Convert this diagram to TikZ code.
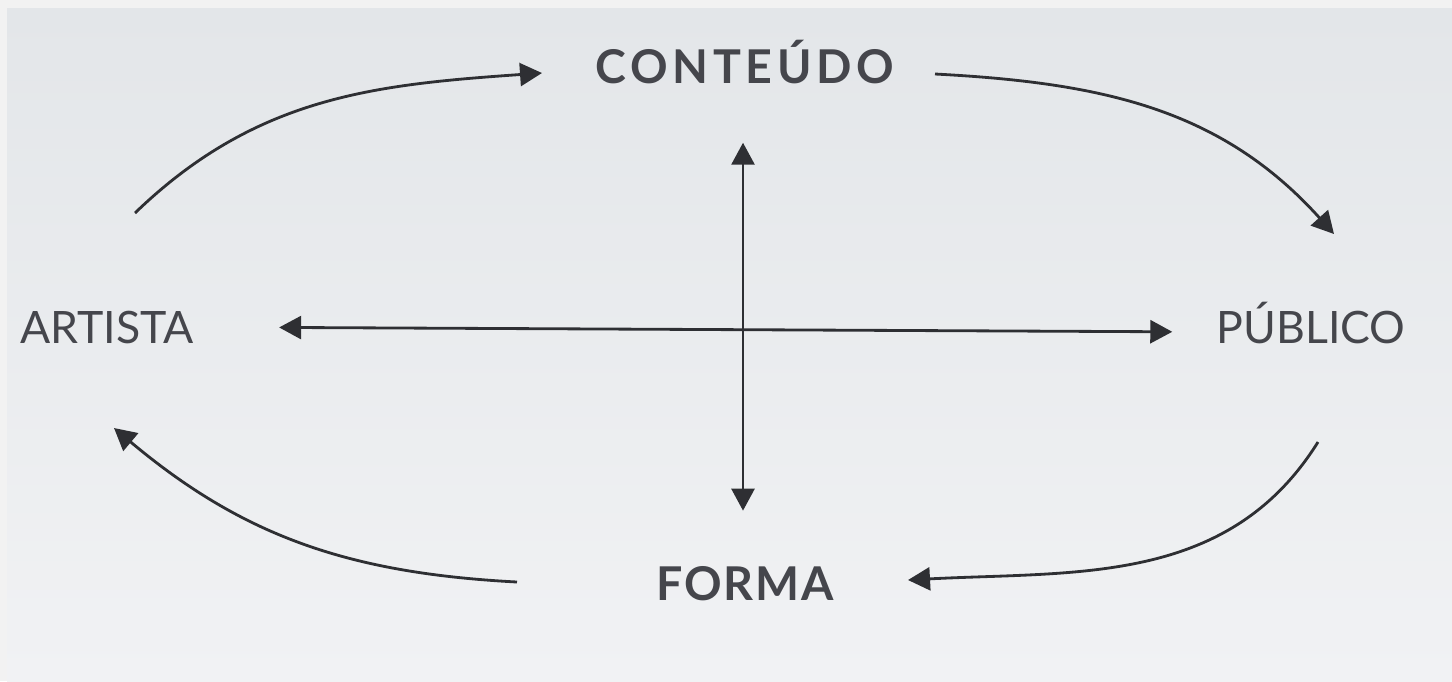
\documentclass[tikz,border=0pt]{standalone}
\usepackage{fontspec}
\setmainfont{Lato}
\usetikzlibrary{arrows.meta}
\definecolor{txtgray}{HTML}{45464C}
\definecolor{arrgray}{HTML}{2E2F33}
\definecolor{framegray}{HTML}{F2F2F2}
\definecolor{bgtop}{HTML}{E3E6E9}
\definecolor{bgbot}{HTML}{F1F2F4}
\begin{document}
\begin{tikzpicture}[x=0.02cm,y=0.02cm,
  lbl/.style={anchor=base,inner sep=0pt,text=txtgray,font=\fontsize{25.4}{30}\selectfont},
  lblb/.style={lbl,font=\fontsize{26.5}{30}\selectfont\bfseries\addfontfeature{LetterSpace=#1}},
  arr/.style={line width=1.6pt,draw=arrgray,-{Triangle[length=0.44cm,width=0.46cm]}},
  dbl/.style={arr,{Triangle[length=0.44cm,width=0.46cm]}-{Triangle[length=0.44cm,width=0.46cm]}}]
\useasboundingbox (0,0) rectangle (1452,-681);
\fill[framegray] (0,0) rectangle (1452,-681);
\shade[top color=bgtop,bottom color=bgbot] (7,-8) rectangle (1452,-681);

\node (conteudo) at (745,-83)[lblb=10] {CONTEÚDO};
\node (forma) at (745,-600)[lblb=4] {FORMA};
\node (artista) at (107,-343)[lbl] {ARTISTA};
\node (publico) at (1311,-343)[lbl] {PÚBLICO};

% ends of the four curved arrows
\coordinate (tl-s) at (135,-213);
\coordinate (tl-e) at (542,-73);
\coordinate (tr-s) at (935,-74);
\coordinate (tr-e) at (1334,-234);
\coordinate (br-s) at (1318,-442);
\coordinate (br-e) at (908,-580);
\coordinate (bl-s) at (517,-582);
\coordinate (bl-e) at (114,-428);

\draw [dbl,shorten <=1.7cm,shorten >=0.88cm] ([yshift=0.32cm]artista.base east) -- ([yshift=0.22cm]publico.base west);
\draw [dbl,shorten <=1.18cm,shorten >=1.1cm] ([xshift=-0.04cm]conteudo.south) -- ([xshift=-0.04cm]forma.north);
\draw [arr] (tl-s) to[out=44,in=184] (tl-e);
\draw [arr] (tr-s) to[out=-3,in=132] (tr-e);
\draw [arr] (br-s) to[out=-122,in=3] (br-e);
\draw [arr] (bl-s) to[out=177,in=-40] (bl-e);
\end{tikzpicture}
\end{document}
